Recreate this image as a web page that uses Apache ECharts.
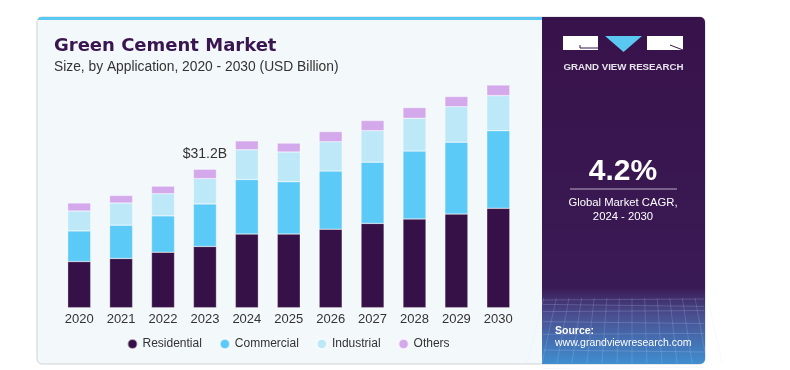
<!DOCTYPE html>
<html>
<head>
<meta charset="utf-8">
<script src="https://cdn.jsdelivr.net/npm/echarts@6/dist/echarts.min.js"></script>
<style>html,body{margin:0;padding:0;background:#fff;}#c{width:790px;height:370px;}</style>
</head>
<body>
<div id="c"></div>
<script>
var years = ['2020','2021','2022','2023','2024','2025','2026','2027','2028','2029','2030'];
var residential = [10.4, 11.1, 12.5, 13.8, 16.6, 16.6, 17.7, 19.0, 20.0, 21.1, 22.4];
var commercial  = [6.9, 7.5, 8.2, 9.6, 12.3, 11.8, 13.1, 13.8, 15.3, 16.2, 17.5];
var industrial  = [4.5, 5.0, 5.0, 5.7, 6.7, 6.7, 6.6, 7.1, 7.4, 8.0, 7.9];
var others      = [1.8, 1.7, 1.7, 2.1, 2.0, 2.0, 2.3, 2.3, 2.4, 2.3, 2.4];
var highlightLabel = '$31.2B';
var highlightIndex = 3;

var FONT = 'Arial, "Liberation Sans", sans-serif';
var chart = echarts.init(document.getElementById('c'), null, {renderer: 'canvas'});

function seg(name, data, color) {
  return {
    name: name, type: 'bar', stack: 'total', barWidth: 23, data: data,
    itemStyle: {color: color, borderColor: 'rgba(255,255,255,0.6)', borderWidth: 0.5},
    emphasis: {disabled: true}
  };
}

var othersSeries = seg('Others', others.map(function (v, i) {
  if (i === highlightIndex) {
    return {value: v, label: {show: true, position: 'top', distance: 8, formatter: highlightLabel,
      fontSize: 14, color: '#333', fontFamily: FONT}};
  }
  return v;
}), '#d4a9ec');

var option = {
  animation: false,
  textStyle: {fontFamily: FONT},
  title: {
    text: 'Green Cement Market',
    subtext: 'Size, by Application, 2020 - 2030 (USD Billion)',
    left: 54, top: 35, itemGap: 3, padding: 0,
    textStyle: {fontSize: 18, fontWeight: 'bold', color: '#3a1650', lineHeight: 22, fontFamily: '"DejaVu Sans", sans-serif'},
    subtextStyle: {fontSize: 13.8, color: '#333', lineHeight: 15, fontFamily: FONT}
  },
  legend: {
    data: ['Residential', 'Commercial', 'Industrial', 'Others'],
    left: 121.5, top: 333, icon: 'circle', itemWidth: 10, itemHeight: 10, itemGap: 17,
    textStyle: {fontSize: 12, color: '#333', fontFamily: FONT},
    selectedMode: false
  },
  grid: {left: 58.25, right: 790 - 519.25, top: 63.7, bottom: 62.3, containLabel: false},
  xAxis: {
    type: 'category', data: years,
    axisLine: {show: false}, axisTick: {show: false},
    axisLabel: {fontSize: 13, color: '#333', margin: 5, fontFamily: FONT}
  },
  yAxis: {type: 'value', min: 0, max: 55, show: false, splitLine: {show: false}},
  graphic: [
    {type: 'rect', z: -10, shape: {x: 37, y: 17, width: 668, height: 347, r: 5},
      style: {fill: '#f3f8fb', stroke: '#cfd3d8', lineWidth: 1}},
    {type: 'rect', z: -9, shape: {x: 38, y: 17, width: 505, height: 3, r: [4, 0, 0, 0]},
      style: {fill: '#5bc8f2'}},
    {type: 'rect', z: -9, shape: {x: 542, y: 17, width: 163, height: 347, r: [0, 5, 5, 0]},
      style: {fill: new echarts.graphic.LinearGradient(0, 0, 0, 1, [
        {offset: 0, color: '#38124a'},
        {offset: 0.78, color: '#3a1a55'},
        {offset: 0.86, color: '#4a4f90'},
        {offset: 1, color: '#3f8ed0'}
      ])}},
    // faint mesh lines at bottom of panel
    {type: 'group', z: -8, children: (function () {
      var arr = [];
      for (var i = 0; i < 7; i++) {
        var y = 300 + i * i * 1.4 + i * 3;
        arr.push({type: 'line', shape: {x1: 543, y1: y, x2: 704, y2: y + (i % 2 ? 2 : -1)},
          style: {stroke: 'rgba(200,220,255,0.25)', lineWidth: 0.8}});
      }
      for (var j = 0; j < 14; j++) {
        var x = 548 + j * 12;
        arr.push({type: 'line', shape: {x1: x + (j - 7) * 0.6, y1: 298, x2: x + (j - 7) * 3, y2: 363},
          style: {stroke: 'rgba(200,220,255,0.22)', lineWidth: 0.8}});
      }
      return arr;
    })()},
    // logo
    {type: 'rect', z: -7, shape: {x: 563, y: 36, width: 35, height: 14}, style: {fill: '#ffffff'}},
    {type: 'polyline', z: -6, shape: {points: [[580, 45], [580, 48], [598, 48]]},
      style: {stroke: '#38124a', lineWidth: 1, fill: null}},
    {type: 'polygon', z: -7, shape: {points: [[605, 36], [642, 36], [623.5, 52]]}, style: {fill: '#5bc8f2'}},
    {type: 'rect', z: -7, shape: {x: 647, y: 36, width: 36, height: 14}, style: {fill: '#ffffff'}},
    {type: 'line', z: -6, shape: {x1: 670, y1: 45, x2: 683, y2: 50}, style: {stroke: '#38124a', lineWidth: 1}},
    {type: 'text', z: -6, style: {text: 'GRAND VIEW RESEARCH', x: 623.5, y: 67.5, align: 'center', verticalAlign: 'middle',
      font: 'bold 9.7px ' + FONT, fill: '#e8e4ee'}},
    // CAGR
    {type: 'text', z: -6, style: {text: '4.2%', x: 623, y: 172, align: 'center', verticalAlign: 'middle',
      font: 'bold 30px ' + FONT, fill: '#ffffff'}},
    {type: 'line', z: -6, shape: {x1: 570, y1: 189, x2: 677, y2: 189}, style: {stroke: '#b9afc3', lineWidth: 1}},
    {type: 'text', z: -6, style: {text: 'Global Market CAGR,', x: 623, y: 203, align: 'center', verticalAlign: 'middle',
      font: '11.3px ' + FONT, fill: '#ffffff'}},
    {type: 'text', z: -6, style: {text: '2024 - 2030', x: 623, y: 216.5, align: 'center', verticalAlign: 'middle',
      font: '11.3px ' + FONT, fill: '#ffffff'}},
    // source
    {type: 'text', z: -6, style: {text: 'Source:', x: 555, y: 331.5, align: 'left', verticalAlign: 'middle',
      font: 'bold 10.5px ' + FONT, fill: '#ffffff'}},
    {type: 'text', z: -6, style: {text: 'www.grandviewresearch.com', x: 555, y: 343.5, align: 'left', verticalAlign: 'middle',
      font: '10.5px ' + FONT, fill: '#ffffff'}}
  ],
  series: [
    seg('Residential', residential, '#361147'),
    seg('Commercial', commercial, '#5ccaf6'),
    seg('Industrial', industrial, '#bde8f8'),
    othersSeries
  ]
};
chart.setOption(option);
</script>
</body>
</html>
